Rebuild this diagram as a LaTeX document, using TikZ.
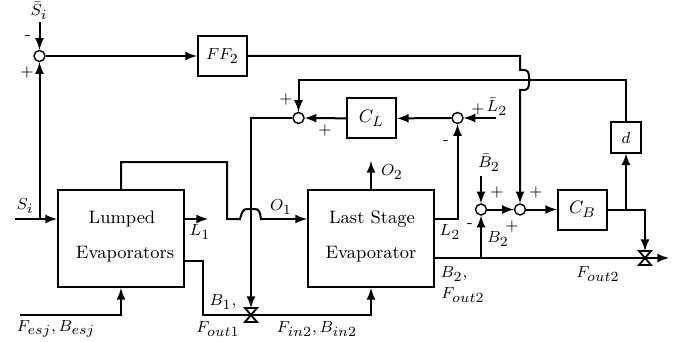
\documentclass[tikz,border=0pt]{standalone}
\usepackage{amsmath, amssymb}
\usetikzlibrary{arrows}
\usetikzlibrary{positioning}
\DeclareMathSizes{9}{9}{7}{5}
\DeclareMathSizes{8}{8}{7}{5}

\begin{document}
\begin{tikzpicture}[x=0.5pt,y=-0.5pt,line width=1pt,>=latex]
	\tikzstyle{sumnode}=[circle, draw=black, fill=white, inner sep=0, minimum size=5.5pt, line width=0.7pt]
	\tikzstyle{blocknode}=[rectangle, draw=black, inner sep=0, line width=1pt]
	\tikzstyle{valvenode}=[inner sep=0, minimum width=5pt, minimum height=6pt]
	\tikzset{txt/.style={inner sep=0, font=\small}}
	\tikzset{lbl/.style={inner sep=0, font=\footnotesize}}
	\useasboundingbox (0,0) rectangle (685,342);

	%blocks
	\node[blocknode, minimum width=24.5pt, minimum height=20pt] (ff2) at (222.5,56) {\footnotesize $FF_2$};
	\node[blocknode, minimum width=24.5pt, minimum height=20pt] (cl) at (371.5,118.5) {\small $C_L$};
	\node[blocknode, minimum width=24.5pt, minimum height=20pt] (cb) at (582.5,209.5) {\small $C_B$};
	\node[blocknode, minimum width=15pt, minimum height=15pt] (d) at (626,137.5) {\footnotesize $d$};
	\node[blocknode, minimum width=63pt, minimum height=48.5pt] (lumped) at (121,238.5) {};
	\node[blocknode, minimum width=63pt, minimum height=48.5pt] (last) at (371,238.5) {};
	\node[txt] (lumped1) at (122,219) {Lumped};
	\node[txt] (lumped2) at (125,254) {Evaporators};
	\node[txt] (last1) at (372,219) {Last Stage};
	\node[txt] (last2) at (371,254) {Evaporator};

	%summing points
	\node[sumnode] (s1) at (39.5,56) {};
	\node[sumnode] (s2) at (298.5,118) {};
	\node[sumnode] (s3) at (457.5,118) {};
	\node[sumnode] (s4) at (481,209.5) {};
	\node[sumnode] (s5) at (520,209.5) {};

	%valves
	\node[valvenode] (v1) at (251,315) {};
	\node[valvenode] (v2) at (645,258) {};

	%free ends and corners
	\coordinate (sibar) at (39.5,22);
	\coordinate (siin) at (15,219);
	\coordinate (sitap) at (39.5,219);
	\coordinate (l1end) at (208,219);
	\coordinate (l2bar) at (496,118);
	\coordinate (b2bar) at (481,176);
	\coordinate (o2end) at (371,161);
	\coordinate (fesj) at (20,315);
	\coordinate (fout2end) at (669,258);
	\coordinate (b2tap) at (481,258);
	\coordinate (cbtap) at (626,209.5);

	%main lines
	\draw[->] (siin) -- (lumped.west |- siin);
	\draw[->] (sibar) -- (s1);
	\draw[->] (sitap) -- (s1);
	\draw[->] (s1) -- (ff2);
	\draw[->] (lumped.east |- l1end) -- (l1end);
	\draw[->] (fesj) -| (lumped.south);
	\draw (lumped.north) |- (227,162) -- (227,219) -- (240,219) .. controls (242,212) and (243,209) .. (247,209) -- (255,209) .. controls (259,209) and (260,212) .. (261,219) -- (263,219);
	\draw[->] (263,219) -- (last.west |- 263,219);
	\draw[->] (lumped.east |- 0,261) -- (203,261) -- (203,315) -| (last.south);
	\draw[->] (last.north) -- (o2end);
	\draw[->] (last.east |- 0,219) -| (s3);
	\draw[->] (last.east |- fout2end) -- (fout2end);
	\draw[->] (b2tap) -- (s4);
	\draw[->] (b2bar) -- (s4);
	\draw[->] (s4) -- (s5);
	\draw[->] (s5) -- (cb);
	\draw[->] (cb) -| (v2);
	\draw[->] (cbtap) -- (d);
	\draw[->] (l2bar) -- (s3);
	\draw[->] (s3) -- (cl);
	\draw[->] (cl) -- (s2);
	\draw[->] (s2) -| (v1);
	\draw[->] (d) |- (298.5,80) -- (s2);
	\draw[->] (ff2) -- (520,56) -- (520,70) -- (524,70) .. controls (528,70) and (529,73) .. (529,77) -- (529,83) .. controls (529,87) and (528,90) .. (524,90) -- (520,90) -- (s5);

	%valves
	\foreach \v in {v1,v2}{
		\draw[line width=0.9pt] (\v.north west) -- (\v.south east) -- (\v.south west) -- (\v.north east) -- cycle;
	}

	%labels
	\node[lbl] (lsibar) at (39,11) {$\bar{S}_i$};
	\node[lbl] (lm1) at (28,38) {-};
	\node[lbl] (lp1) at (27,72) {+};
	\node[lbl] (lsi) at (25,206) {$S_i$};
	\node[lbl] (ll1) at (200,232) {$L_1$};
	\node[lbl] (lo1) at (281,207) {$O_1$};
	\node[lbl] (lb1) at (223,302) {$B_1,$};
	\node[lbl] (lfo1) at (218,329) {$F_{out1}$};
	\node[lbl] (lfesj) at (56,329) {$F_{esj},B_{esj}$};
	\node[lbl] (lfin) at (317,329) {$F_{in2},B_{in2}$};
	\node[lbl] (lp2) at (286,100) {+};
	\node[lbl] (lp3) at (325,130) {+};
	\node[lbl] (lp4) at (478,109) {+};
	\node[lbl] (ll2b) at (497,107) {$\bar{L}_2$};
	\node[lbl] (lm3) at (446,143) {-};
	\node[lbl] (lo2) at (392,172) {$O_2$};
	\node[lbl] (lb2b) at (489,163) {$\bar{B}_2$};
	\node[lbl] (lp5) at (497,192) {+};
	\node[lbl] (lp6) at (536,192) {+};
	\node[lbl] (lp7) at (512,226) {+};
	\node[lbl] (lm4) at (470,226) {-};
	\node[lbl] (ll2) at (450,232) {$L_2$};
	\node[lbl] (lb2) at (498,239) {$B_2$};
	\node[lbl] (lb2f) at (454,274) {$B_2,$};
	\node[lbl] (lf2a) at (463,295) {$F_{out2}$};
	\node[lbl] (lf2b) at (598,274) {$F_{out2}$};
\end{tikzpicture}
\end{document}
